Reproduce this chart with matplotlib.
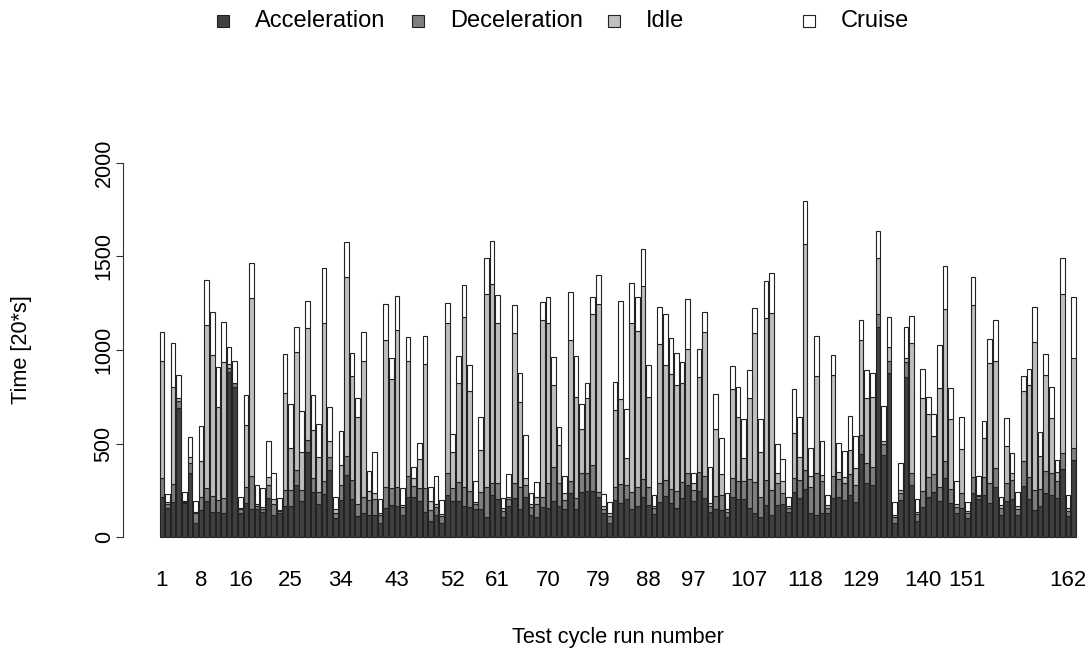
import numpy as np
import matplotlib
matplotlib.use("Agg")
import matplotlib.pyplot as plt
from matplotlib.patches import Rectangle

plt.rcParams["font.family"] = ["Liberation Sans", "DejaVu Sans"]

# time spent in each driving mode per test cycle run, units of 20 s
acceleration = [
    216, 155, 185, 690, 180, 344, 77, 144, 194, 135, 135, 127, 880, 800, 127, 180,
    148, 148, 135, 207, 118, 127, 166, 166, 278, 194, 456, 242, 177, 230, 358, 100,
    198, 332, 201, 112, 130, 118, 118, 77, 153, 171, 166, 118, 212, 212, 194, 135,
    87, 118, 73, 225, 194, 194, 166, 159, 148, 148, 105, 225, 201, 109, 166, 207,
    148, 216, 118, 105, 159, 153, 194, 166, 148, 234, 148, 242, 248, 248, 215, 127,
    73, 198, 184, 201, 148, 166, 216, 171, 123, 189, 219, 180, 153, 207, 278, 194,
    248, 207, 135, 148, 144, 109, 216, 201, 201, 153, 127, 109, 171, 118, 171, 177,
    135, 242, 207, 255, 127, 118, 130, 127, 207, 212, 198, 225, 189, 444, 291, 278,
    1125, 440, 879, 77, 198, 854, 278, 87, 159, 216, 242, 194, 314, 184, 127, 153,
    100, 234, 205, 225, 184, 269, 118, 194, 201, 118, 273, 201, 144, 166, 237, 225,
    207, 362, 112, 412,
]
deceleration = [
    98, 20, 97, 40, 8, 50, 50, 68, 66, 84, 63, 80, 25, 22, 21, 89,
    178, 20, 14, 70, 60, 12, 85, 85, 80, 57, 63, 72, 65, 71, 72, 30,
    80, 101, 104, 65, 86, 80, 83, 40, 113, 89, 100, 40, 114, 60, 66, 125,
    60, 40, 40, 119, 66, 102, 100, 89, 30, 94, 161, 62, 86, 30, 35, 80,
    121, 60, 40, 70, 57, 134, 182, 121, 50, 67, 59, 99, 93, 137, 25, 25,
    40, 71, 99, 77, 94, 103, 92, 98, 30, 98, 86, 75, 95, 89, 66, 60,
    101, 119, 30, 71, 81, 25, 98, 100, 100, 155, 169, 107, 134, 133, 116, 57,
    20, 72, 98, 103, 139, 226, 171, 30, 119, 96, 89, 112, 89, 102, 103, 98,
    68, 55, 64, 28, 35, 84, 63, 35, 89, 103, 95, 72, 94, 71, 35, 81,
    28, 85, 15, 94, 103, 98, 38, 97, 104, 33, 135, 118, 107, 89, 118, 119,
    90, 85, 28, 62,
]
idle = [
    629, 10, 518, 12, 6, 32, 5, 196, 874, 754, 496, 731, 20, 3, 8, 330,
    951, 9, 10, 42, 23, 5, 517, 223, 633, 205, 597, 258, 184, 842, 85, 18,
    107, 956, 556, 467, 727, 50, 36, 13, 788, 583, 841, 13, 617, 42, 155, 665,
    47, 19, 10, 802, 196, 526, 912, 535, 11, 223, 1034, 1066, 859, 14, 15, 802,
    455, 38, 19, 41, 945, 859, 437, 205, 36, 753, 544, 235, 401, 808, 1006, 14,
    14, 410, 453, 143, 904, 835, 1035, 482, 13, 745, 615, 617, 565, 526, 661, 33,
    505, 772, 15, 357, 112, 14, 476, 343, 120, 434, 793, 240, 865, 949, 57, 67,
    11, 240, 121, 1209, 60, 517, 31, 14, 540, 41, 36, 128, 89, 508, 348, 371,
    297, 20, 71, 13, 18, 18, 698, 13, 494, 339, 203, 529, 810, 374, 15, 235,
    13, 922, 5, 209, 642, 576, 15, 196, 39, 15, 375, 494, 792, 178, 511, 291,
    52, 853, 13, 481,
]
cruise = [
    155, 45, 236, 124, 48, 111, 62, 186, 241, 229, 213, 210, 90, 118, 56, 160,
    190, 101, 101, 196, 143, 63, 211, 237, 130, 220, 148, 187, 178, 294, 179, 68,
    184, 191, 121, 98, 155, 107, 219, 71, 192, 113, 182, 89, 125, 59, 90, 150,
    72, 149, 75, 107, 95, 146, 170, 137, 112, 179, 191, 232, 148, 54, 121, 152,
    155, 232, 60, 80, 98, 139, 151, 95, 92, 258, 217, 135, 80, 92, 155, 64,
    62, 152, 528, 262, 214, 178, 196, 169, 59, 200, 273, 191, 169, 116, 266, 57,
    150, 107, 193, 189, 191, 89, 125, 160, 208, 151, 134, 173, 201, 210, 153, 114,
    50, 236, 218, 232, 148, 214, 183, 54, 107, 156, 139, 182, 173, 107, 151, 128,
    148, 185, 161, 71, 147, 169, 145, 66, 155, 89, 118, 232, 231, 166, 124, 175,
    48, 148, 101, 94, 128, 218, 45, 148, 103, 76, 78, 84, 189, 130, 113, 169,
    62, 190, 72, 330,
]
# run numbers printed under the bars, and the bar (1-based) each one sits under
shown_runs = [1, 8, 16, 25, 34, 43, 52, 61, 70, 79, 88, 97, 107, 118, 129, 140, 151, 162]
shown_bars = [1, 8, 15, 24, 33, 43, 53, 61, 70, 79, 88, 96, 106, 116, 126, 137, 145, 163]

modes = ["Acceleration", "Deceleration", "Idle", "Cruise"]
colors = ["#404040", "#7f7f7f", "#bfbfbf", "#ffffff"]

W, H = 1088, 654
fig = plt.figure(figsize=(W / 100, H / 100), dpi=100)

# R-style barplot: width 1, space 0.2
n = len(acceleration)
x = 0.7 + 1.2 * np.arange(n)
ax = fig.add_axes([123 / W, (H - 552) / H, 989.6 / W, 404 / H])
bottom = np.zeros(n)
for vals, col in zip([acceleration, deceleration, idle, cruise], colors):
    vals = np.array(vals, dtype=float)
    ax.bar(x, vals, width=1.0, bottom=bottom, color=col,
           edgecolor="#222222", linewidth=0.8)
    bottom += vals

ax.set_xlim(-7.66, 204.66)
ax.set_ylim(-80, 2080)
for s in ["top", "right", "bottom"]:
    ax.spines[s].set_visible(False)
ax.spines["left"].set_bounds(0, 2000)
ax.spines["left"].set_color("#333333")
ax.set_yticks([0, 500, 1000, 1500, 2000])
ax.tick_params(axis="y", direction="out", length=5, width=0.8, color="#333333",
               labelsize=15.5, pad=1)
for lab in ax.get_yticklabels():
    lab.set_rotation(90)
    lab.set_va("center")
ax.set_xticks([x[b - 1] for b in shown_bars])
ax.set_xticklabels([str(r) for r in shown_runs])
ax.tick_params(axis="x", length=0, labelsize=16, pad=13)

fig.text(618 / W, 1 - 637 / H, "Test cycle run number", ha="center", va="center", fontsize=15.7)
fig.text(22 / W, 1 - 350 / H, "Time [20*s]", ha="center", va="center",
         rotation=90, fontsize=15.7)

# legend row above the plot
sq = 12
for k, (m, col) in enumerate(zip(modes, colors)):
    cx = 223 + 195.3 * k
    fig.patches.append(Rectangle(((cx - sq / 2) / W, 1 - (21 + sq / 2) / H), sq / W, sq / H,
                                 transform=fig.transFigure, facecolor=col,
                                 edgecolor="#222222", linewidth=0.8))
    fig.text((255 + 195.3 * k) / W, 1 - 21 / H, m, ha="left", va="center", fontsize=17)

fig.savefig("out.png", dpi=100)
